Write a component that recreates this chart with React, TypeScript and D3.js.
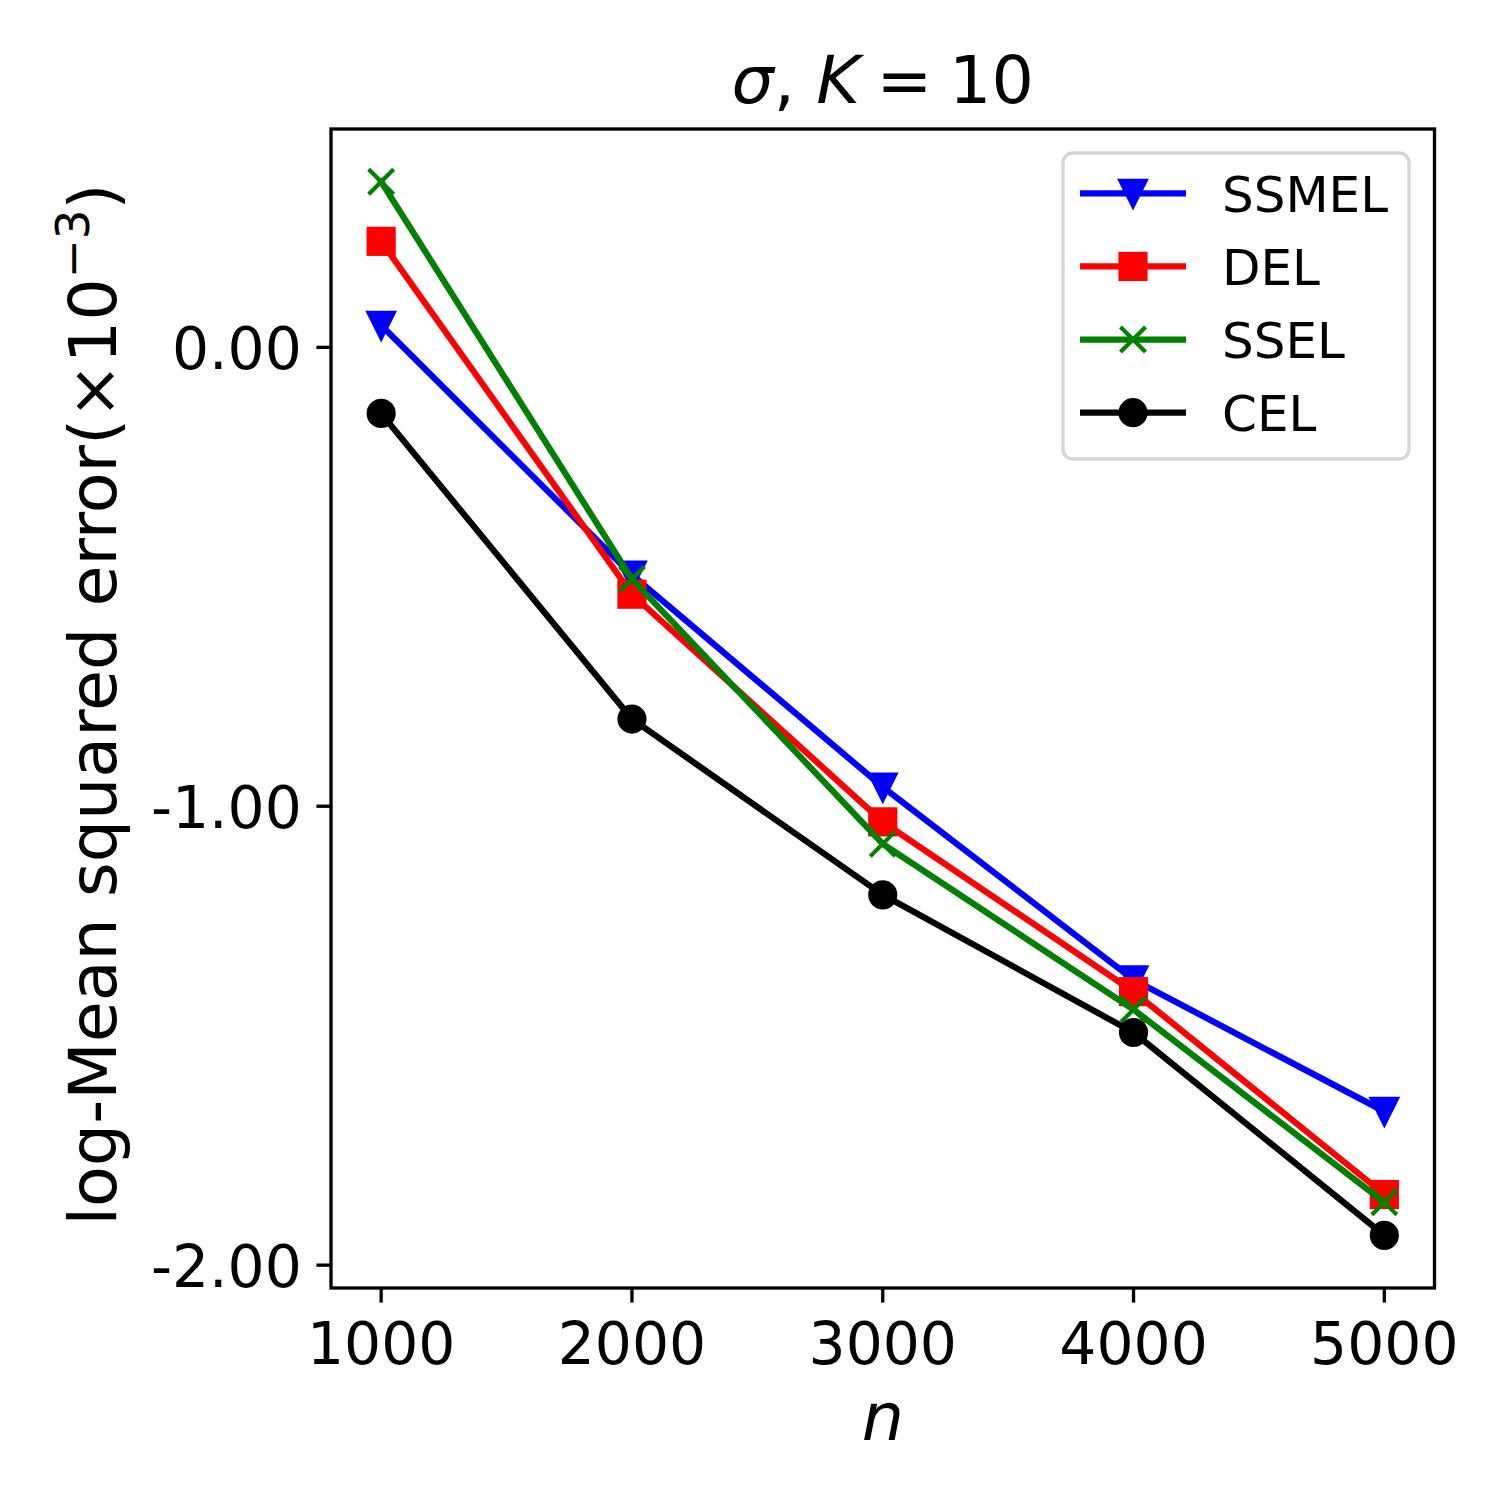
import React, { useEffect, useRef } from 'react';
import * as d3 from 'd3';

const sampleSizes = [1000, 2000, 3000, 4000, 5000];
const seriesNames = ['SSMEL', 'DEL', 'SSEL', 'CEL'];
const ssmelValues = [0.048, -0.496, -0.958, -1.378, -1.665];
const delValues = [0.231, -0.538, -1.034, -1.404, -1.846];
const sselValues = [0.361, -0.505, -1.082, -1.443, -1.863];
const celValues = [-0.144, -0.81, -1.193, -1.493, -1.935];
const xTicks = [1000, 2000, 3000, 4000, 5000];
const yTicks = [-2, -1, 0];

interface Series {
  name: string;
  values: number[];
  color: string;
  marker: 'tri' | 'square' | 'x' | 'circle';
}

const series: Series[] = [
  { name: seriesNames[0], values: ssmelValues, color: '#0000ff', marker: 'tri' },
  { name: seriesNames[1], values: delValues, color: '#ff0000', marker: 'square' },
  { name: seriesNames[2], values: sselValues, color: '#008000', marker: 'x' },
  { name: seriesNames[3], values: celValues, color: '#000000', marker: 'circle' },
];

const FONT = '"DejaVu Sans", sans-serif';
const PT = 300 / 72;

const drawMarker = (
  g: d3.Selection<SVGGElement, unknown, null, undefined>,
  kind: Series['marker'],
  cx: number,
  cy: number,
  color: string
) => {
  const s = 6 * PT;
  const ew = 1 * PT;
  const h = s / 2;
  if (kind === 'tri') {
    g.append('path')
      .attr('d', `M${cx},${cy + h}L${cx - h},${cy - h}L${cx + h},${cy - h}Z`)
      .attr('fill', color)
      .attr('stroke', color)
      .attr('stroke-width', ew);
  } else if (kind === 'square') {
    g.append('rect')
      .attr('x', cx - h)
      .attr('y', cy - h)
      .attr('width', s)
      .attr('height', s)
      .attr('fill', color)
      .attr('stroke', color)
      .attr('stroke-width', ew);
  } else if (kind === 'circle') {
    g.append('circle')
      .attr('cx', cx)
      .attr('cy', cy)
      .attr('r', h)
      .attr('fill', color)
      .attr('stroke', color)
      .attr('stroke-width', ew);
  } else {
    g.append('path')
      .attr('d', `M${cx - h},${cy - h}L${cx + h},${cy + h}M${cx - h},${cy + h}L${cx + h},${cy - h}`)
      .attr('fill', 'none')
      .attr('stroke', color)
      .attr('stroke-width', ew);
  }
};

const App: React.FC = () => {
  const svgRef = useRef<SVGSVGElement>(null);

  useEffect(() => {
    const svgEl = svgRef.current;
    if (!svgEl) return;
    const svg = d3.select(svgEl);
    svg.selectAll('*').remove();

    const left = 331;
    const right = 1434.5;
    const top = 129;
    const bottom = 1288;

    // matplotlib-style 5% margins
    const xMin = d3.min(sampleSizes)!;
    const xMax = d3.max(sampleSizes)!;
    const xPad = (xMax - xMin) * 0.05;
    const allY = series.flatMap((s) => s.values);
    const yMin = d3.min(allY)!;
    const yMax = d3.max(allY)!;
    const yPad = (yMax - yMin) * 0.05;

    const x = d3.scaleLinear().domain([xMin - xPad, xMax + xPad]).range([left, right]);
    const y = d3.scaleLinear().domain([yMin - yPad, yMax + yPad]).range([bottom, top]);

    svg.append('rect').attr('width', 1500).attr('height', 1500).attr('fill', '#ffffff');

    const plot = svg.append('g');
    const line = d3
      .line<number>()
      .x((_, i) => x(sampleSizes[i]))
      .y((d) => y(d));

    series.forEach((s) => {
      plot.append('path')
        .attr('d', line(s.values))
        .attr('fill', 'none')
        .attr('stroke', s.color)
        .attr('stroke-width', 1.5 * PT)
        .attr('stroke-linejoin', 'round')
        .attr('stroke-linecap', 'square');
      s.values.forEach((v, i) => drawMarker(plot, s.marker, x(sampleSizes[i]), y(v), s.color));
    });

    // spines
    svg.append('rect')
      .attr('x', left)
      .attr('y', top)
      .attr('width', right - left)
      .attr('height', bottom - top)
      .attr('fill', 'none')
      .attr('stroke', '#000')
      .attr('stroke-width', 0.8 * PT)
      .attr('stroke-linejoin', 'miter');

    const tickLen = 3.5 * PT;
    const tickFont = 14 * PT;

    xTicks.forEach((t) => {
      svg.append('line')
        .attr('x1', x(t)).attr('x2', x(t))
        .attr('y1', bottom).attr('y2', bottom + tickLen)
        .attr('stroke', '#000').attr('stroke-width', 0.8 * PT);
      svg.append('text')
        .attr('x', x(t))
        .attr('y', bottom + 76)
        .attr('text-anchor', 'middle')
        .attr('font-family', FONT)
        .attr('font-size', tickFont)
        .text(String(t));
    });

    yTicks.forEach((t) => {
      svg.append('line')
        .attr('x1', left - tickLen).attr('x2', left)
        .attr('y1', y(t)).attr('y2', y(t))
        .attr('stroke', '#000').attr('stroke-width', 0.8 * PT);
      svg.append('text')
        .attr('x', left - tickLen - 3.5 * PT)
        .attr('y', y(t) + 22)
        .attr('text-anchor', 'end')
        .attr('font-family', FONT)
        .attr('font-size', tickFont)
        .text(t.toFixed(2));
    });

    const labelFont = 16 * PT;

    // title
    const title = svg.append('text')
      .attr('x', (left + right) / 2)
      .attr('y', 103)
      .attr('text-anchor', 'middle')
      .attr('font-family', FONT)
      .attr('font-size', labelFont);
    title.append('tspan').attr('font-style', 'italic').text('σ');
    title.append('tspan').text(', ');
    title.append('tspan').attr('font-style', 'italic').text('K');
    title.append('tspan').text('\u2005=\u200510');

    // x label
    svg.append('text')
      .attr('x', (left + right) / 2)
      .attr('y', 1440)
      .attr('text-anchor', 'middle')
      .attr('font-family', FONT)
      .attr('font-style', 'italic')
      .attr('font-size', labelFont)
      .text('n');

    // y label
    const yl = svg.append('text')
      .attr('transform', `translate(116,${(top + bottom) / 2 - 4}) rotate(-90)`)
      .attr('text-anchor', 'middle')
      .attr('font-family', FONT)
      .attr('font-size', labelFont);
    yl.append('tspan').text('log-Mean squared error(×10');
    yl.append('tspan').attr('font-size', labelFont * 0.7).attr('dy', -labelFont * 0.4).text('−3');
    yl.append('tspan').attr('dy', labelFont * 0.4).text(')');

    // legend
    const legend = svg.append('g');
    legend.append('rect')
      .attr('x', 1063)
      .attr('y', 153)
      .attr('width', 346)
      .attr('height', 306)
      .attr('rx', 10)
      .attr('fill', '#ffffff')
      .attr('fill-opacity', 0.8)
      .attr('stroke', '#cccccc')
      .attr('stroke-opacity', 0.8)
      .attr('stroke-width', 0.8 * PT);

    const rowY = d3.scalePoint<string>().domain(seriesNames).range([193.3, 412.7]);
    series.forEach((s) => {
      const ry = rowY(s.name)!;
      legend.append('line')
        .attr('x1', 1080).attr('x2', 1186)
        .attr('y1', ry).attr('y2', ry)
        .attr('stroke', s.color)
        .attr('stroke-width', 1.5 * PT);
      drawMarker(legend, s.marker, 1133, ry, s.color);
      legend.append('text')
        .attr('x', 1222)
        .attr('y', ry + 18.3)
        .attr('font-family', FONT)
        .attr('font-size', 12 * PT)
        .text(s.name);
    });
  }, []);

  return (
    <svg
      ref={svgRef}
      width={1500}
      height={1500}
      style={{ position: 'absolute', left: 0, top: 0, display: 'block' }}
    />
  );
};

export default App;
